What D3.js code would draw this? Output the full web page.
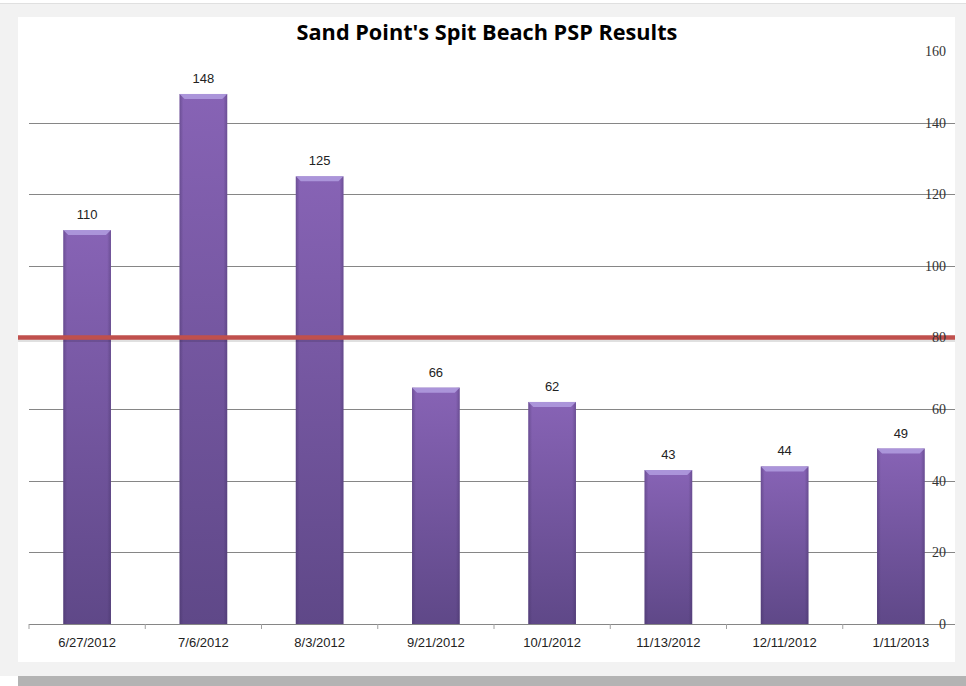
<!DOCTYPE html>
<html lang="en">
<meta charset="UTF-8">
<title>Sand Point's Spit Beach PSP Results</title>
<script src="https://d3js.org/d3.v7.min.js"></script>
<style>
html, body { margin: 0; padding: 0; background: #fff; }
svg { display: block; }
</style>
<body>
<div id="chart"></div>
<script>
// data
var dates = ["6/27/2012", "7/6/2012", "8/3/2012", "9/21/2012", "10/1/2012", "11/13/2012", "12/11/2012", "1/11/2013"];
var psp = [110, 148, 125, 66, 62, 43, 44, 49];
var yTicks = [0, 20, 40, 60, 80, 100, 120, 140, 160];
var limit = 80;

var W = 966, H = 686;
var plot = {left: 29, right: 959, top: 51, bottom: 624};

var svg = d3.select("#chart").append("svg")
    .attr("width", W)
    .attr("height", H);

// frame: grey border, white panel, bottom shadow strip
svg.append("rect").attr("x", 0).attr("y", 3).attr("width", W).attr("height", 673).attr("fill", "#f2f2f2");
svg.append("line").attr("x1", 0).attr("x2", W).attr("y1", 3.5).attr("y2", 3.5).attr("stroke", "#e0e0e0");
svg.append("rect").attr("x", 18).attr("y", 17).attr("width", 937).attr("height", 645).attr("fill", "#fff");
svg.append("rect").attr("x", 18).attr("y", 676).attr("width", W - 18).attr("height", 10).attr("fill", "#b3b3b3");

var defs = svg.append("defs");
var grad = defs.append("linearGradient").attr("id", "barGrad")
    .attr("x1", 0).attr("y1", 0).attr("x2", 0).attr("y2", 1);
grad.append("stop").attr("offset", "0%").attr("stop-color", "#8763b5");
grad.append("stop").attr("offset", "100%").attr("stop-color", "#5f4888");
var edge = defs.append("linearGradient").attr("id", "edgeGrad")
    .attr("x1", 0).attr("y1", 0).attr("x2", 1).attr("y2", 0);
edge.append("stop").attr("offset", "0%").attr("stop-color", "#3a2a5a").attr("stop-opacity", 0.35);
edge.append("stop").attr("offset", "8%").attr("stop-color", "#3a2a5a").attr("stop-opacity", 0);
edge.append("stop").attr("offset", "92%").attr("stop-color", "#3a2a5a").attr("stop-opacity", 0);
edge.append("stop").attr("offset", "100%").attr("stop-color", "#3a2a5a").attr("stop-opacity", 0.35);

var x = d3.scaleBand()
    .domain(dates)
    .range([plot.left, plot.right])
    .paddingInner(0.59)
    .paddingOuter(0.295);

var y = d3.scaleLinear()
    .domain([0, 160])
    .range([plot.bottom, plot.top]);

// gridlines
svg.append("g").selectAll("line")
    .data(yTicks.filter(function(d) { return d > 0 && d < 160; }))
    .join("line")
    .attr("x1", plot.left).attr("x2", 955)
    .attr("y1", function(d) { return Math.round(y(d)) + 0.5; })
    .attr("y2", function(d) { return Math.round(y(d)) + 0.5; })
    .attr("stroke", "#868686");

// bars
var bars = svg.append("g").selectAll("g")
    .data(psp)
    .join("g")
    .attr("transform", function(d, i) { return "translate(" + x(dates[i]) + ",0)"; });

bars.append("rect")
    .attr("y", function(d) { return y(d); })
    .attr("width", x.bandwidth())
    .attr("height", function(d) { return plot.bottom - y(d); })
    .attr("fill", "url(#barGrad)");
bars.append("rect")
    .attr("y", function(d) { return y(d); })
    .attr("width", x.bandwidth())
    .attr("height", function(d) { return plot.bottom - y(d); })
    .attr("fill", "url(#edgeGrad)");
// bevelled top edge
bars.append("path")
    .attr("d", function(d) {
        var t = y(d), w = x.bandwidth();
        return "M0," + t + "H" + w + "L" + (w - 5) + "," + (t + 5) + "H5Z";
    })
    .attr("fill", "#b29ee0")
    .attr("opacity", 0.85);

// value labels
bars.append("text")
    .attr("x", x.bandwidth() / 2)
    .attr("y", function(d) { return y(d) - 11; })
    .attr("text-anchor", "middle")
    .style("font-family", "'Liberation Sans', sans-serif")
    .style("font-size", "13px")
    .style("fill", "#222")
    .text(function(d) { return d; });

// limit line with a faint shadow
svg.append("line")
    .attr("x1", 18).attr("x2", 955)
    .attr("y1", y(limit) + 2.5).attr("y2", y(limit) + 2.5)
    .attr("stroke", "#000").attr("stroke-opacity", 0.12).attr("stroke-width", 4);
svg.append("line")
    .attr("x1", 18).attr("x2", 955)
    .attr("y1", y(limit)).attr("y2", y(limit))
    .attr("stroke", "#c0504d").attr("stroke-width", 4.5);

// x axis
var xAxis = svg.append("g")
    .attr("transform", "translate(0," + plot.bottom + ")")
    .call(d3.axisBottom(x).tickSize(0).tickPadding(14));
xAxis.select(".domain").remove();
xAxis.append("line")
    .attr("x1", plot.left).attr("x2", 955)
    .attr("y1", 0.5).attr("y2", 0.5)
    .attr("stroke", "#868686");
xAxis.selectAll(".sep")
    .data(dates)
    .join("line")
    .attr("class", "sep")
    .attr("x1", function(d) { return x(d) - x.step() * 0.295; })
    .attr("x2", function(d) { return x(d) - x.step() * 0.295; })
    .attr("y1", 0).attr("y2", 5)
    .attr("stroke", "#a0a0a0");
xAxis.selectAll("text")
    .style("font-family", "'Liberation Sans', sans-serif")
    .style("font-size", "13px")
    .style("fill", "#222");

// y axis on the right, labels sitting on the gridlines
var yAxis = svg.append("g")
    .attr("transform", "translate(946,0)")
    .call(d3.axisLeft(y).tickValues(yTicks).tickSize(0).tickPadding(0));
yAxis.select(".domain").remove();
yAxis.selectAll("text")
    .style("font-family", "'Liberation Serif', serif")
    .style("font-size", "14px")
    .style("fill", "#333");

// title
svg.append("text")
    .attr("x", 487)
    .attr("y", 40)
    .attr("text-anchor", "middle")
    .style("font-family", "'Open Sans', sans-serif")
    .style("font-weight", "bold")
    .style("font-size", "21.7px")
    .style("fill", "#000")
    .text("Sand Point's Spit Beach PSP Results");
</script>
</body>
</html>
